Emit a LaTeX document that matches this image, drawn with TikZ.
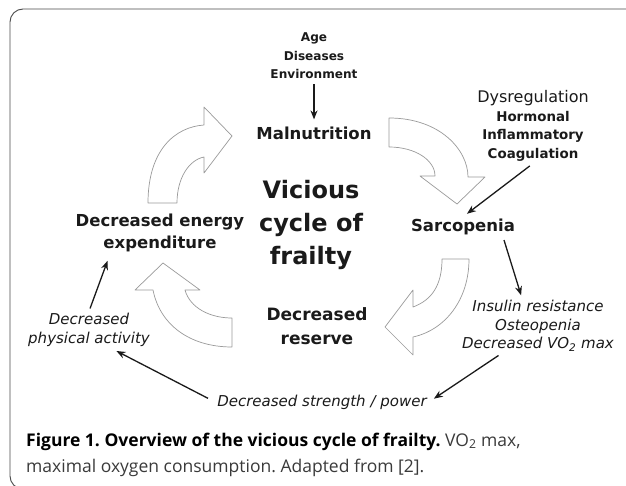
\documentclass[tikz,border=0pt]{standalone}
\usepackage{fontspec}
\setmainfont{DejaVu Sans}
\newfontfamily\capfont{Open Sans}
\usetikzlibrary{arrows.meta}
\frenchspacing
\definecolor{ink}{HTML}{1A1A1A}
\definecolor{capgray}{HTML}{3A3A3A}
\definecolor{boxgray}{HTML}{9A9A9A}
\definecolor{framegray}{HTML}{4A4A4A}
\tikzset{
  stage/.style={align=center, inner sep=2pt, text=ink,
    font=\bfseries\fontsize{16.5}{22}\selectfont},
  factor/.style 2 args={align=center, inner sep=2pt, text=ink,
    font=\bfseries\fontsize{#1}{#2}\selectfont},
  effect/.style={align=center, inner sep=2pt, text=ink,
    font=\itshape\fontsize{15}{18.5}\selectfont},
  block/.style={draw=boxgray, fill=white, line width=0.7pt, line join=round},
  link/.style={-{Stealth[length=9pt,width=7pt]}, line width=1.3pt, draw=ink},
}
\begin{document}
\begin{tikzpicture}[x=1pt,y=-1pt]
  \useasboundingbox (0,0) rectangle (626,486);
  \clip (0,0) rectangle (626,486);
  %frame
  \draw[framegray, line width=0.9pt, rounded corners=13pt] (10,9) rectangle (640,489);
  % stages of the cycle
  \node[stage] (mal) at (314,133) {Malnutrition};
  \node[stage] (sarc) at (463,227) {Sarcopenia};
  \node[stage, font=\bfseries\fontsize{17}{24}\selectfont] (res) at (317,326) {Decreased\\reserve};
  \node[stage] (energy) at (160,233) {Decreased energy\\expenditure};
  \node[stage, font=\bfseries\fontsize{24}{33}\selectfont] (title) at (311,225) {Vicious\\cycle of\\frailty};
  % causes and effects
  \node[factor={12.1}{18.5}] (causes) at (314,56) {Age\\Diseases\\Environment};
  \node[factor={13.4}{18.5}] (dys) at (533,126)
    {{\mdseries\fontsize{16}{19}\selectfont Dysregulation}\\Hormonal\\Inflammatory\\Coagulation};
  \node[effect] (ins) at (538,326) {Insulin resistance\\Osteopenia\\Decreased VO\textsubscript{2} max};
  \node[effect] (strength) at (322,402) {Decreased strength / power};
  \node[effect] (phys) at (89,330) {Decreased\\physical activity};
  % block arrows of the cycle
  \draw[block] (148,203) .. controls (148,150) and (175,127) .. (204,125) -- (204,107)
    -- (232,136) -- (204,173) -- (204,157) .. controls (189,160) and (177,178) .. (177,203) -- cycle;
  \draw[block] (389,118) .. controls (440,118) and (468,150) .. (468,177) -- (485,177)
    -- (457,204) -- (420,176) -- (435,176) .. controls (435,160) and (415,147) .. (389,147) -- cycle;
  \draw[block] (442,259) -- (469,259) .. controls (469,300) and (445,330) .. (413,337) -- (413,355)
    -- (385,327) -- (413,290) -- (413,307) .. controls (432,300) and (442,285) .. (442,259) -- cycle;
  \draw[block] (232,318) -- (232,347) .. controls (190,347) and (160,325) .. (153,290) -- (135,290)
    -- (163,263) -- (200,290) -- (185,290) .. controls (190,308) and (210,318) .. (232,318) -- cycle;
  % thin arrows
  \draw[link, shorten <=3pt, shorten >=5pt] (causes.south) -- (mal.north);
  \draw[link, shorten <=4pt, shorten >=5pt] (dys.south) -- (sarc.north);
  \draw[link, shorten <=3pt, shorten >=3pt] ([xshift=-14pt]sarc.south east) -- ([xshift=-16pt]ins.north);
  \draw[link, shorten <=3pt, shorten >=6pt] ([xshift=-37pt]ins.south) -- (strength.east);
  \draw[link, shorten <=8pt, shorten >=5pt] (strength.west) -- ([xshift=23pt]phys.south);
  \draw[link, shorten <=3pt, shorten >=7pt] (phys.north) -- ([xshift=-50pt]energy.south);
  % caption
  \node[anchor=base west, inner sep=0pt, text=capgray, font=\capfont\fontsize{17.5}{26}\selectfont] (cap1) at (26,446)
    {\textbf{\color{black}Figure 1. Overview of the vicious cycle of frailty.} VO\textsubscript{2} max,};
  \node[anchor=base west, inner sep=0pt, text=capgray, font=\capfont\fontsize{17.5}{26}\selectfont] (cap2) at (26,472)
    {maximal oxygen consumption. Adapted from [2].};
\end{tikzpicture}
\end{document}
